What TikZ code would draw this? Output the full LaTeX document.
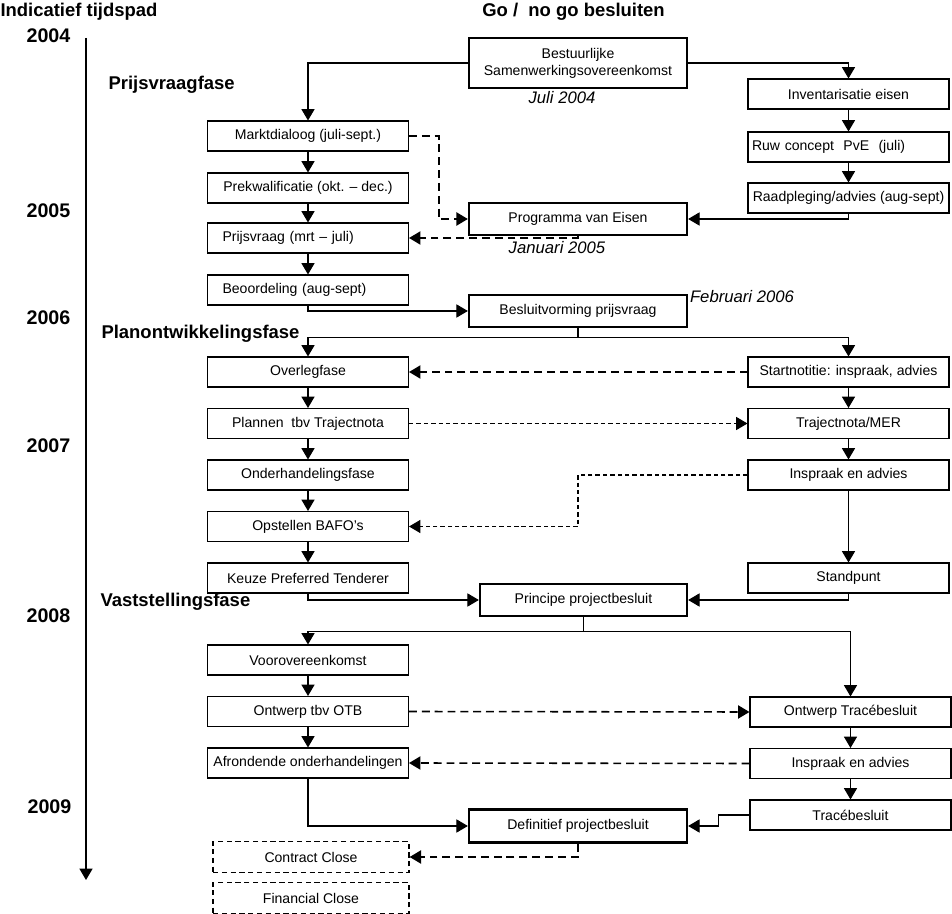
\documentclass[tikz,border=0pt]{standalone}
\usepackage{fontspec}
\setmainfont{Liberation Sans}
\usepackage{tikz}
\usetikzlibrary{arrows.meta}

\begin{document}
\begin{tikzpicture}[->,>={Triangle[length=6.5pt,width=7.5pt]},semithick,
node distance=1.03cm,font=\fontsize{8}{9.6}\selectfont]
\tikzstyle{stap}=[draw,rectangle,minimum width=4.02cm,minimum height=0.6cm,inner sep=1pt]
\tikzstyle{links}=[stap,align=left,text width=3.42cm,inner xsep=0.3cm]
\tikzstyle{besluit}=[draw,rectangle,line width=1.3pt,minimum width=4.36cm,minimum height=0.65cm,inner sep=1pt]
\tikzstyle{sluiting}=[stap,dash pattern=on 3pt off 2pt,line width=0.7pt,minimum width=3.92cm,minimum height=0.62cm]
\tikzstyle{jaar}=[font=\fontsize{11.2}{13}\selectfont\bfseries]
\tikzstyle{fase}=[font=\fontsize{10.5}{12}\selectfont\bfseries,anchor=west,inner sep=0pt]
\tikzstyle{datum}=[font=\fontsize{9.5}{11}\selectfont\itshape]
\tikzstyle{stippel}=[line width=0.9pt,dash pattern=on 4.5pt off 2.8pt]
\tikzstyle{fijn}=[dash pattern=on 2.5pt off 1.7pt]
\useasboundingbox (0,0) rectangle (19.04,-18.28);

% kopjes en tijdlijn
\node[fase] (kop1) at (0,-0.24) {Indicatief tijdspad};
\node[fase,anchor=center] (kop2) at (11.47,-0.24) {Go /\ \ no go besluiten};
\node[jaar] (j2004) at (0.97,-0.72) {2004};
\node[jaar] (j2005) at (0.97,-4.22) {2005};
\node[jaar] (j2006) at (0.97,-6.36) {2006};
\node[jaar] (j2007) at (0.97,-8.92) {2007};
\node[jaar] (j2008) at (0.97,-12.32) {2008};
\node[jaar] (j2009) at (0.99,-16.14) {2009};
\coordinate (t0) at (1.72,-0.76);
\coordinate (t1) at (1.72,-17.6);
\draw (t0) -- (t1);
\node[fase] (f1) at (2.16,-1.7) {Prijsvraagfase};
\node[fase] (f2) at (2.02,-6.68) {Planontwikkelingsfase};
\node[fase] (f3) at (2.0,-12.04) {Vaststellingsfase};

% go / no go besluiten
\node[besluit,minimum height=1.0cm,align=center] (bsok) at (11.56,-1.26) {Bestuurlijke\\Samenwerkingsovereenkomst};
\node[datum] (d1) at (11.24,-1.96) {Juli 2004};
\node[besluit] (pve) at (11.56,-4.38) {Programma van Eisen};
\node[datum] (d2) at (11.14,-4.96) {Januari 2005};
\node[besluit] (besluitv) at (11.56,-6.22) {Besluitvorming prijsvraag};
\node[datum] (d3) at (14.84,-5.94) {Februari 2006};
\node[besluit,minimum width=4.14cm] (principe) at (11.67,-12.0) {Principe projectbesluit};
\node[besluit,minimum height=0.66cm] (definitief) at (11.56,-16.52) {Definitief projectbesluit};

% linker kolom
\node[stap] (markt) at (6.16,-2.72) {Marktdialoog (juli-sept.)};
\node[stap] (prekw) [below of=markt,node distance=1.04cm] {Prekwalificatie (okt. -- dec.)};
\node[links] (prijsv) [below of=prekw,node distance=1.0cm] {Prijsvraag (mrt -- juli)};
\node[links] (beoord) [below of=prijsv,node distance=1.04cm] {Beoordeling (aug-sept)};
\node[stap] (overleg) at (6.16,-7.44) {Overlegfase};
\node[stap] (plannen) [below of=overleg] {Plannen\ \ tbv Trajectnota};
\node[stap] (onderh) [below of=plannen] {Onderhandelingsfase};
\node[stap] (bafo) [below of=onderh] {Opstellen BAFO's};
\node[stap] (keuze) [below of=bafo] {Keuze Preferred Tenderer};
\node[stap] (voor) at (6.16,-13.2) {Voorovereenkomst};
\node[stap] (otb) [below of=voor] {Ontwerp tbv OTB};
\node[stap] (afrond) [below of=otb] {Afrondende onderhandelingen};
\node[sluiting] (contract) at (6.22,-17.14) {Contract Close};
\node[sluiting] (financial) [below of=contract,node distance=0.82cm] {Financial Close};

% rechter kolom
\node[stap] (invent) at (16.97,-1.88) {Inventarisatie eisen};
\node[stap,align=left,text width=3.86cm,inner xsep=0.08cm] (ruw) [below of=invent,node distance=1.06cm] {Ruw concept\ \ PvE\ \ (juli)};
\node[stap] (raadpl) [below of=ruw,node distance=1.02cm] {Raadpleging/advies (aug-sept)};
\node[stap] (startn) at (16.97,-7.44) {Startnotitie: inspraak, advies};
\node[stap] (trajmer) [below of=startn] {Trajectnota/MER};
\node[stap] (inspr) [below of=trajmer] {Inspraak en advies};
\node[stap] (standp) [below of=inspr,node distance=2.06cm] {Standpunt};
\node[stap] (ontwtb) at (17.01,-14.24) {Ontwerp Trac\'ebesluit};
\node[stap] (inspr2) [below of=ontwtb] {Inspraak en advies};
\node[stap] (trace) [below of=inspr2] {Trac\'ebesluit};

% verbindingen
\draw (bsok.west) -| (markt.north);
\draw (bsok.east) -| (invent.north);
\path (markt) edge (prekw)
      (prekw) edge (prijsv)
      (prijsv) edge (beoord)
      (invent) edge (ruw)
      (ruw) edge (raadpl);
\draw[stippel] (markt.east) -- ++(0.6,0) |- (pve.west);
\draw[stippel] (pve.south) |- (prijsv.east);
\draw (raadpl.south) |- (pve.east);
\draw (beoord.south) |- (besluitv.west);

\draw[-] (besluitv.south) -- ++(0,-0.18) coordinate (split1);
\draw (split1) -| (overleg.north);
\draw (split1) -| (startn.north);
\path (overleg) edge (plannen)
      (plannen) edge (onderh)
      (onderh) edge (bafo)
      (bafo) edge (keuze)
      (startn) edge (trajmer)
      (trajmer) edge (inspr)
      (inspr) edge (standp);
\draw[stippel] (startn.west) -- (overleg.east);
\draw[fijn] (plannen.east) -- (trajmer.west);
\draw[fijn] (inspr.west) -| (besluitv.south |- bafo.east) -- (bafo.east);
\draw (keuze.south) |- (principe.west);
\draw (standp.south) |- (principe.east);

\draw[-] (principe.south) -- ++(0,-0.28) coordinate (split2);
\draw (split2) -| (voor.north);
\draw (split2) -| (ontwtb.north);
\path (voor) edge (otb)
      (otb) edge (afrond)
      (ontwtb) edge (inspr2)
      (inspr2) edge (trace);
\draw[stippel] (otb.east) -- (ontwtb.west);
\draw[stippel] (inspr2.west) -- (afrond.east);
\draw (trace.west) -- ++(-0.62,0) |- (definitief.east);
\draw (afrond.south) |- (definitief.west);
\draw[stippel] (definitief.south) |- (contract.east);
\end{tikzpicture}
\end{document}
